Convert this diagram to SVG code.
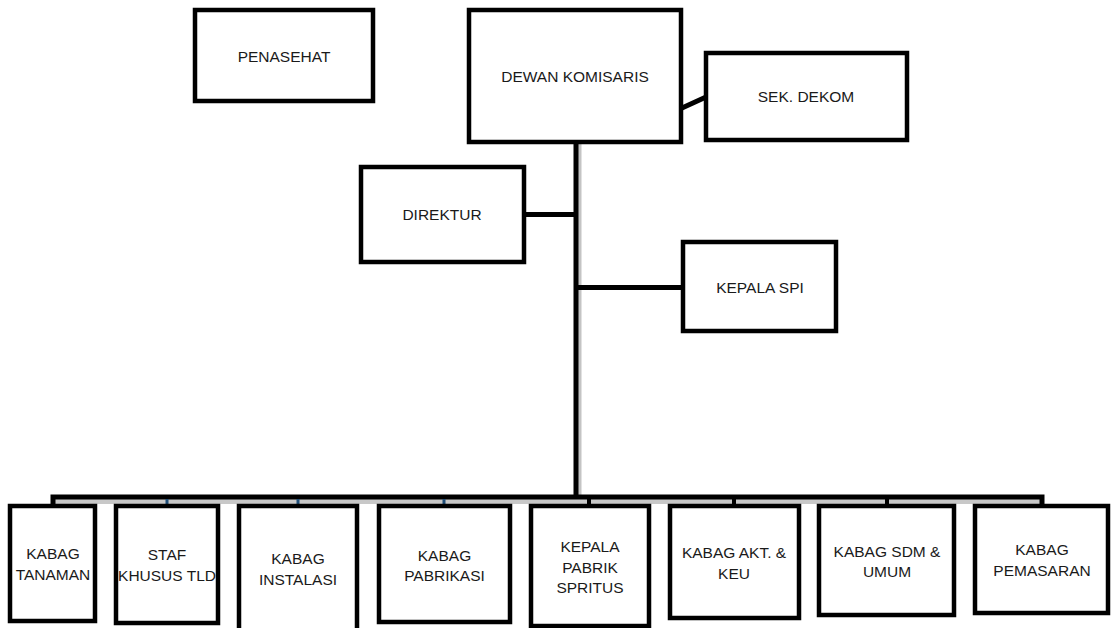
<svg xmlns="http://www.w3.org/2000/svg" width="1111" height="628" viewBox="0 0 1111 628">
<style>
.box{fill:#fff;stroke:#000;stroke-width:4.5}
.t{font-family:"Liberation Sans",Arial,sans-serif;font-size:15.5px;fill:#1a1a1a;text-anchor:middle}
.c{stroke:#000;stroke-width:5;fill:none}
.sh{stroke:#c4c4c4;stroke-width:5;fill:none}
</style>
<rect width="1111" height="628" fill="#fff"/>
<g id="connectors">
<line class="sh" x1="579" y1="144" x2="579" y2="497"/>
<line class="c" x1="576" y1="142" x2="576" y2="497"/>
<line class="c" x1="524" y1="214.5" x2="574" y2="214.5"/>
<line class="c" x1="578" y1="287.5" x2="683" y2="287.5"/>
<line class="c" x1="682" y1="108" x2="706" y2="97" stroke-width="4"/>
<rect x="55" y="499" width="985" height="5" fill="#c8c8c8"/>
<path class="c" d="M53 504 V497 H1042 V504" stroke-width="4"/>
<g stroke="#1f4e79" stroke-width="3">
<line x1="167" y1="499" x2="167" y2="504"/>
<line x1="298" y1="499" x2="298" y2="504"/>
<line x1="444" y1="499" x2="444" y2="504"/>
</g>
<g stroke="#000" stroke-width="4">
<line x1="589" y1="499" x2="589" y2="504"/>
<line x1="734" y1="499" x2="734" y2="504"/>
<line x1="887" y1="499" x2="887" y2="504"/>
</g>
</g>
<g id="penasehat"><rect class="box" x="195" y="10" width="178" height="91"/><text class="t" x="284" y="62">PENASEHAT</text></g>
<g id="dewan-komisaris"><rect class="box" x="469" y="10" width="212" height="132"/><text class="t" x="575" y="82">DEWAN KOMISARIS</text></g>
<g id="sek-dekom"><rect class="box" x="706" y="53" width="201" height="87"/><text class="t" x="806" y="102">SEK. DEKOM</text></g>
<g id="direktur"><rect class="box" x="361" y="167" width="163" height="95"/><text class="t" x="442" y="220">DIREKTUR</text></g>
<g id="kepala-spi"><rect class="box" x="683" y="242" width="153" height="89"/><text class="t" x="760" y="293">KEPALA SPI</text></g>
<g id="kabag-tanaman"><rect class="box" x="10" y="506" width="85" height="115"/><text class="t" x="53" y="559">KABAG</text><text class="t" x="53" y="580">TANAMAN</text></g>
<g id="staf-khusus-tld"><rect class="box" x="116" y="506" width="102" height="117"/><text class="t" x="167" y="560">STAF</text><text class="t" x="167" y="581">KHUSUS TLD</text></g>
<g id="kabag-instalasi"><rect class="box" x="239" y="506" width="118" height="130"/><text class="t" x="298" y="564">KABAG</text><text class="t" x="298" y="585">INSTALASI</text></g>
<g id="kabag-pabrikasi"><rect class="box" x="379" y="506" width="131" height="116"/><text class="t" x="444.5" y="561">KABAG</text><text class="t" x="444.5" y="581">PABRIKASI</text></g>
<g id="kepala-pabrik-spritus"><rect class="box" x="531" y="506" width="118" height="120"/><text class="t" x="590" y="552">KEPALA</text><text class="t" x="590" y="573">PABRIK</text><text class="t" x="590" y="593">SPRITUS</text></g>
<g id="kabag-akt-keu"><rect class="box" x="670" y="506" width="129" height="112"/><text class="t" x="734" y="558">KABAG AKT. &amp;</text><text class="t" x="734" y="579">KEU</text></g>
<g id="kabag-sdm-umum"><rect class="box" x="819" y="506" width="135" height="109"/><text class="t" x="887" y="557">KABAG SDM &amp;</text><text class="t" x="887" y="577">UMUM</text></g>
<g id="kabag-pemasaran"><rect class="box" x="975" y="506" width="133" height="107"/><text class="t" x="1042" y="555">KABAG</text><text class="t" x="1042" y="576">PEMASARAN</text></g>
</svg>
